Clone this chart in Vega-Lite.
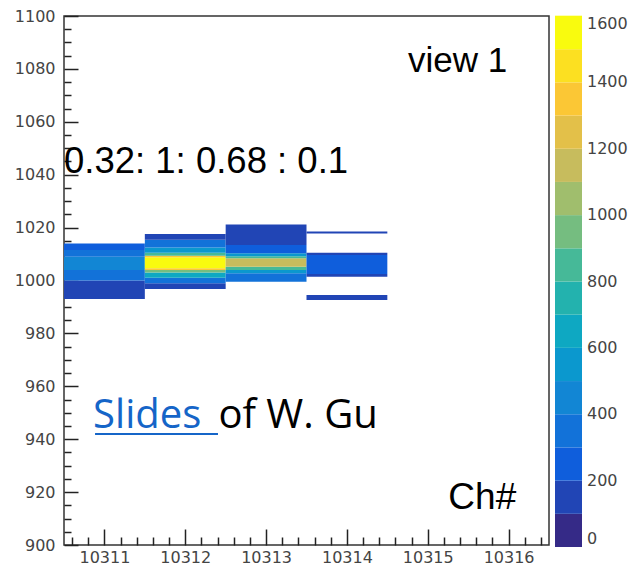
{
  "$schema": "https://vega.github.io/schema/vega-lite/v6.json",
  "width": 485,
  "height": 529,
  "autosize": "none",
  "padding": {"left": 64, "top": 16, "right": 85, "bottom": 22},
  "background": "white",
  "config": {
    "view": {"stroke": "#333333", "strokeWidth": 1.5},
    "font": "Liberation Sans",
    "axis": {"labelFont": "DejaVu Sans", "labelFontSize": 16, "labelColor": "#444444", "tickColor": "#222222", "tickWidth": 1.5, "grid": false, "domain": false, "title": null}
  },
  "datasets": {
    "cells": [
      {"x0": 10310.5, "x1": 10311.5, "y0": 993, "y1": 1000, "count": 120},
      {"x0": 10310.5, "x1": 10311.5, "y0": 1000, "y1": 1004, "count": 330},
      {"x0": 10310.5, "x1": 10311.5, "y0": 1004, "y1": 1009, "count": 460},
      {"x0": 10310.5, "x1": 10311.5, "y0": 1009, "y1": 1011.5, "count": 350},
      {"x0": 10310.5, "x1": 10311.5, "y0": 1011.5, "y1": 1014, "count": 230},
      {"x0": 10311.5, "x1": 10312.5, "y0": 996.8, "y1": 999, "count": 180},
      {"x0": 10311.5, "x1": 10312.5, "y0": 999, "y1": 1001, "count": 330},
      {"x0": 10311.5, "x1": 10312.5, "y0": 1001, "y1": 1003, "count": 600},
      {"x0": 10311.5, "x1": 10312.5, "y0": 1003, "y1": 1004, "count": 950},
      {"x0": 10311.5, "x1": 10312.5, "y0": 1004, "y1": 1004.6, "count": 1350},
      {"x0": 10311.5, "x1": 10312.5, "y0": 1004.6, "y1": 1008.8, "count": 1600},
      {"x0": 10311.5, "x1": 10312.5, "y0": 1008.8, "y1": 1009.4, "count": 1300},
      {"x0": 10311.5, "x1": 10312.5, "y0": 1009.4, "y1": 1010.5, "count": 850},
      {"x0": 10311.5, "x1": 10312.5, "y0": 1010.5, "y1": 1012.5, "count": 520},
      {"x0": 10311.5, "x1": 10312.5, "y0": 1012.5, "y1": 1015.4, "count": 300},
      {"x0": 10311.5, "x1": 10312.5, "y0": 1015.4, "y1": 1017.6, "count": 160},
      {"x0": 10312.5, "x1": 10313.5, "y0": 999.5, "y1": 1002.7, "count": 300},
      {"x0": 10312.5, "x1": 10313.5, "y0": 1002.7, "y1": 1004, "count": 550},
      {"x0": 10312.5, "x1": 10313.5, "y0": 1004, "y1": 1005.2, "count": 800},
      {"x0": 10312.5, "x1": 10313.5, "y0": 1005.2, "y1": 1008.4, "count": 1150},
      {"x0": 10312.5, "x1": 10313.5, "y0": 1008.4, "y1": 1009.2, "count": 800},
      {"x0": 10312.5, "x1": 10313.5, "y0": 1009.2, "y1": 1010.3, "count": 500},
      {"x0": 10312.5, "x1": 10313.5, "y0": 1010.3, "y1": 1013.4, "count": 280},
      {"x0": 10312.5, "x1": 10313.5, "y0": 1013.4, "y1": 1021.2, "count": 130},
      {"x0": 10313.5, "x1": 10314.5, "y0": 992.6, "y1": 994.5, "count": 150},
      {"x0": 10313.5, "x1": 10314.5, "y0": 1001.4, "y1": 1002.5, "count": 150},
      {"x0": 10313.5, "x1": 10314.5, "y0": 1002.5, "y1": 1009.6, "count": 290},
      {"x0": 10313.5, "x1": 10314.5, "y0": 1009.6, "y1": 1010.5, "count": 150},
      {"x0": 10313.5, "x1": 10314.5, "y0": 1017.8, "y1": 1018.5, "count": 150}
    ],
    "one": [{}]
  },
  "resolve": {"axis": {"x": "independent", "y": "independent"}},
  "layer": [
    {
      "data": {"name": "cells"},
      "mark": {"type": "rect"},
      "encoding": {
        "x": {
          "field": "x0", "type": "quantitative",
          "scale": {"domain": [10310.5, 10316.5], "nice": false, "zero": false},
          "axis": {"orient": "bottom", "values": [10311, 10312, 10313, 10314, 10315, 10316], "format": "d", "tickSize": -16, "labelPadding": 20, "labelFlush": false}
        },
        "x2": {"field": "x1"},
        "y": {
          "field": "y0", "type": "quantitative",
          "scale": {"domain": [900, 1100], "nice": false, "zero": false},
          "axis": {"orient": "left", "values": [900, 920, 940, 960, 980, 1000, 1020, 1040, 1060, 1080, 1100], "format": "d", "tickSize": -14, "labelPadding": 23, "labelFlush": false}
        },
        "y2": {"field": "y1"},
        "color": {
          "field": "count", "type": "quantitative",
          "scale": {"type": "quantize", "domain": [0, 1600], "range": ["#352a87", "#2145b5", "#0f5edc", "#1272d9", "#1286d4", "#0b98ce", "#0ea8c2", "#23b2ae", "#46b998", "#75bd80", "#a0be6d", "#c7bc5d", "#e3c049", "#fbc735", "#fce021", "#f9fb0e"]},
          "legend": {"type": "gradient", "orient": "none", "legendX": 491, "legendY": 0, "direction": "vertical", "gradientLength": 531, "gradientThickness": 27, "gradientStrokeWidth": 0, "title": null, "labelFont": "DejaVu Sans", "labelFontSize": 16, "labelColor": "#444444", "labelOffset": 5, "labelBaseline": "middle", "format": "d", "values": [-0.5, 0, 100, 200, 300, 400, 500, 600, 700, 800, 900, 1000, 1100, 1200, 1300, 1400, 1500, 1600, 1600.5], "labelExpr": "datum.value >= 0 && datum.value <= 1600 && datum.value % 200 === 0 ? datum.label : ''", "labelOverlap": false}
        }
      }
    },
    {
      "data": {"name": "one"},
      "mark": {"type": "text", "text": "view 1", "font": "Liberation Sans", "fontSize": 35, "align": "left", "baseline": "alphabetic", "color": "#000000"},
      "encoding": {
        "x": {"datum": 10314.756, "type": "quantitative", "axis": {"orient": "bottom", "values": [10310.6, 10310.8, 10311.2, 10311.4, 10311.6, 10311.8, 10312.2, 10312.4, 10312.6, 10312.8, 10313.2, 10313.4, 10313.6, 10313.8, 10314.2, 10314.4, 10314.6, 10314.8, 10315.2, 10315.4, 10315.6, 10315.8, 10316.2, 10316.4], "labels": false, "tickSize": -8}},
        "y": {"datum": 1078.8, "type": "quantitative", "axis": {"orient": "left", "values": [905, 910, 915, 925, 930, 935, 945, 950, 955, 965, 970, 975, 985, 990, 995, 1005, 1010, 1015, 1025, 1030, 1035, 1045, 1050, 1055, 1065, 1070, 1075, 1085, 1090, 1095], "labels": false, "tickSize": -7}}
      }
    },
    {
      "data": {"name": "one"},
      "mark": {"type": "text", "text": "0.32: 1: 0.68 : 0.1", "font": "Liberation Sans", "fontSize": 36.5, "align": "left", "baseline": "alphabetic", "color": "#000000"},
      "encoding": {
        "x": {"datum": 10310.5, "type": "quantitative", "axis": null},
        "y": {"datum": 1040.6, "type": "quantitative", "axis": null}
      }
    },
    {
      "data": {"name": "one"},
      "mark": {"type": "text", "text": "Ch#", "font": "Liberation Sans", "fontSize": 37, "align": "left", "baseline": "alphabetic", "color": "#000000"},
      "encoding": {
        "x": {"datum": 10315.255, "type": "quantitative", "axis": null},
        "y": {"datum": 913.6, "type": "quantitative", "axis": null}
      }
    },
    {
      "data": {"name": "one"},
      "mark": {"type": "text", "text": "Slides", "font": "Open Sans", "fontSize": 40, "align": "left", "baseline": "alphabetic", "color": "#1565c8"},
      "encoding": {
        "x": {"datum": 10310.86, "type": "quantitative", "axis": null},
        "y": {"datum": 944.4, "type": "quantitative", "axis": null}
      }
    },
    {
      "data": {"name": "one"},
      "mark": {"type": "text", "text": "of W. Gu", "font": "Open Sans", "fontSize": 40, "align": "left", "baseline": "alphabetic", "color": "#000000"},
      "encoding": {
        "x": {"datum": 10312.41, "type": "quantitative", "axis": null},
        "y": {"datum": 944.4, "type": "quantitative", "axis": null}
      }
    },
    {
      "data": {"name": "one"},
      "mark": {"type": "rule", "color": "#1565c8", "strokeWidth": 2},
      "encoding": {
        "x": {"datum": 10310.884, "type": "quantitative", "axis": null},
        "x2": {"datum": 10312.405},
        "y": {"datum": 942.0, "type": "quantitative", "axis": null}
      }
    }
  ]
}
